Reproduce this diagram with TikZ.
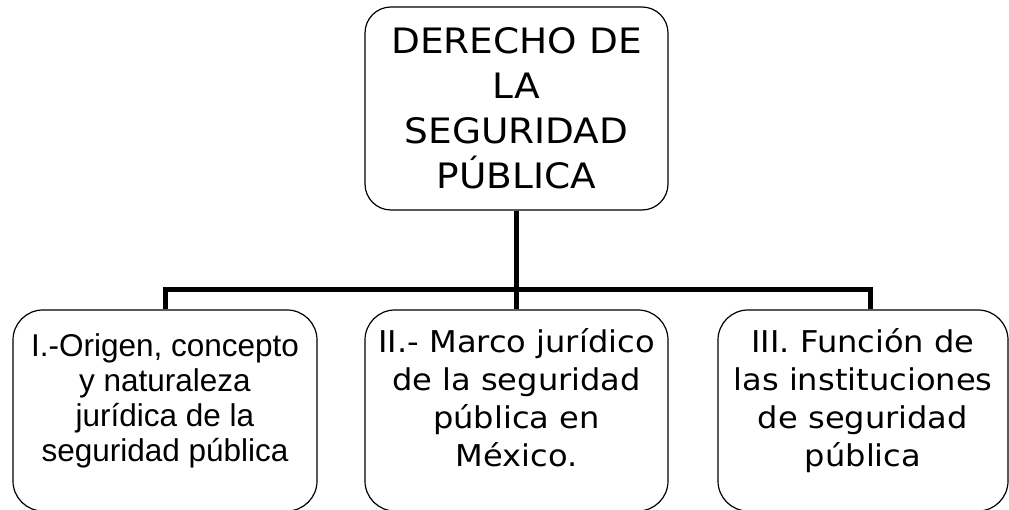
\documentclass[tikz,border=0pt]{standalone}
\usepackage{fontspec}
\setmainfont{DejaVu Sans}[FakeStretch=1.07]
\newfontfamily\arialfont{Liberation Sans}
\usetikzlibrary{positioning,calc}

\begin{document}
\begin{tikzpicture}[
  x=1pt, y=-1pt,
  topbox/.style={rectangle, draw, line width=1.2pt, rounded corners=26pt, minimum width=303pt, minimum height=203pt, align=center, inner sep=0pt, font=\fontsize{35}{45}\selectfont},
  box/.style={rectangle, draw, line width=1.2pt, rounded corners=30pt, minimum height=201pt, align=center, inner sep=0pt, font=\fontsize{30}{38}\selectfont},
  conn/.style={line width=5pt, line join=miter}
]
\clip (0,0) rectangle (1009,510);
\fill[white] (0,0) rectangle (1009,510);

% Top: main topic
\node[topbox] (top) at (516.5,108.5) {DERECHO DE\\LA\\SEGURIDAD\\PÚBLICA};

% Three branches
\node[box, minimum width=304pt, text depth=26pt, font=\arialfont\fontsize{31.5}{35}\selectfont] (b1) at (165,410.5) {I.-Origen, concepto\\y naturaleza\\jurídica de la\\seguridad pública};
\node[box, minimum width=303pt, text depth=26pt] (b2) at (516.5,410.5) {II.- Marco jurídico\\de la seguridad\\pública en\\México.};
\node[box, minimum width=290pt, text depth=26pt] (b3) at (863,410.5) {III. Función de\\las instituciones\\de seguridad\\pública};

% Connectors
\coordinate (jl) at (165,290);
\coordinate (jr) at (870,290);
\draw[conn] (b1.north) -- (jl) -- (jr) -- (jr |- b3.north);
\draw[conn] (top.south) -- (b2.north);

\end{tikzpicture}
\end{document}
